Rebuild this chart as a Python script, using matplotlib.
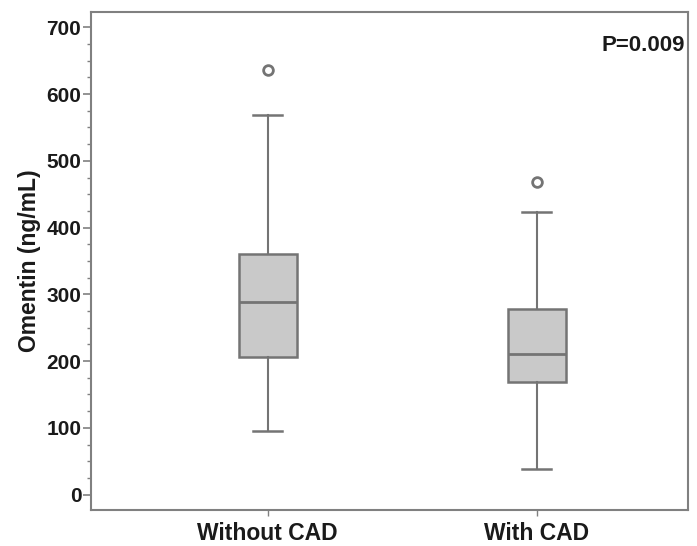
import matplotlib
matplotlib.use("Agg")
import matplotlib.pyplot as plt
from matplotlib.ticker import MultipleLocator

plt.rcParams['font.family'] = ['Liberation Sans', 'DejaVu Sans']

categories = ["Without CAD", "With CAD"]
whislo = [95, 39]
q1 = [206, 168]
med = [288, 211]
q3 = [361, 278]
whishi = [568, 424]
fliers = [[636], [468]]
p_text = "P=0.009"
yticks = [0, 100, 200, 300, 400, 500, 600, 700]

fig = plt.figure(figsize=(6.97, 5.46), dpi=100)
ax = fig.add_axes([0.1306, 0.066, 0.8564, 0.912])

stats = []
for i, c in enumerate(categories):
    stats.append(dict(label=c, whislo=whislo[i], q1=q1[i], med=med[i],
                      q3=q3[i], whishi=whishi[i], fliers=fliers[i]))

edge = "#747474"
ax.bxp(stats, positions=[1, 2], widths=0.215, patch_artist=True,
       boxprops=dict(facecolor="#c9c9c9", edgecolor=edge, linewidth=1.8),
       medianprops=dict(color=edge, linewidth=2.0),
       whiskerprops=dict(color=edge, linewidth=1.5),
       capprops=dict(color=edge, linewidth=1.8),
       capwidths=0.108,
       flierprops=dict(marker='o', markersize=7, markerfacecolor='none',
                       markeredgecolor=edge, markeredgewidth=2.0))

ax.set_xlim(0.344, 2.561)
ax.set_ylim(-23, 723)
ax.set_yticks(yticks)
ax.yaxis.set_minor_locator(MultipleLocator(25))
ax.tick_params(axis='y', which='major', length=6, width=1.2, color='#808080',
               labelsize=15, pad=1)
ax.tick_params(axis='y', which='minor', length=3, width=1.0, color='#808080')
ax.tick_params(axis='x', which='major', length=4, width=1.0, color='#808080',
               labelsize=16.5, pad=5)
for lab in ax.get_yticklabels() + ax.get_xticklabels():
    lab.set_fontweight('bold')
    lab.set_color('#1a1a1a')

for s in ax.spines.values():
    s.set_color('#808080')
    s.set_linewidth(1.5)

ax.set_ylabel("Omentin (ng/mL)", fontsize=16.5, fontweight='bold', color='#1a1a1a',
              labelpad=4)
ax.text(0.995, 0.933, p_text, transform=ax.transAxes, ha='right', va='center',
        fontsize=16, fontweight='bold', color='#1a1a1a')

fig.savefig("out.png", dpi=100)
